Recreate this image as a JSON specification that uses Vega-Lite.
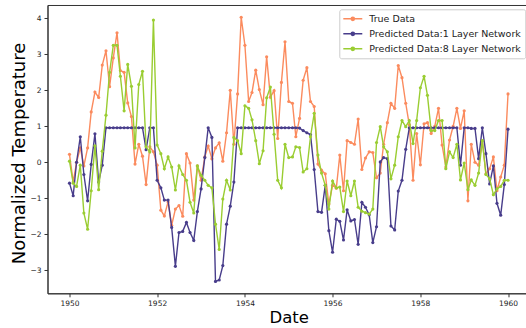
{
  "$schema": "https://vega.github.io/schema/vega-lite/v6.json",
  "width": 482.5,
  "height": 288.3,
  "autosize": "none",
  "padding": {"left": 47.5, "top": 5, "right": 0, "bottom": 35},
  "config": {"view": {"stroke": "#333", "strokeWidth": 1}, "font": "DejaVu Sans"},
  "data": {"values": [
    {"d":"1950-01","t":0.22,"a":-0.58,"b":0.03},
    {"d":"1950-02","t":-0.55,"a":-0.93,"b":-0.58},
    {"d":"1950-03","t":0.0,"a":0.0,"b":-0.67},
    {"d":"1950-04","t":0.4,"a":0.71,"b":-0.08},
    {"d":"1950-05","t":-0.1,"a":-0.34,"b":-1.41},
    {"d":"1950-06","t":0.4,"a":-1.07,"b":-1.86},
    {"d":"1950-07","t":1.4,"a":-0.06,"b":-0.79},
    {"d":"1950-08","t":1.95,"a":0.79,"b":0.46},
    {"d":"1950-09","t":1.8,"a":-0.55,"b":-0.76},
    {"d":"1950-10","t":2.7,"a":-0.08,"b":0.31},
    {"d":"1950-11","t":3.1,"a":0.96,"b":1.31},
    {"d":"1950-12","t":2.1,"a":0.96,"b":2.5},
    {"d":"1951-01","t":2.9,"a":0.96,"b":3.25},
    {"d":"1951-02","t":3.6,"a":0.96,"b":3.25},
    {"d":"1951-03","t":2.55,"a":0.96,"b":2.39},
    {"d":"1951-04","t":2.5,"a":0.96,"b":1.43},
    {"d":"1951-05","t":1.65,"a":0.96,"b":2.72},
    {"d":"1951-06","t":1.27,"a":0.96,"b":2.11},
    {"d":"1951-07","t":-0.05,"a":0.96,"b":0.4},
    {"d":"1951-08","t":0.5,"a":0.96,"b":2.16},
    {"d":"1951-09","t":0.17,"a":0.96,"b":2.53},
    {"d":"1951-10","t":-0.62,"a":0.35,"b":0.43},
    {"d":"1951-11","t":0.43,"a":0.96,"b":0.29},
    {"d":"1951-12","t":0.29,"a":0.96,"b":3.95},
    {"d":"1952-01","t":-0.08,"a":-0.5,"b":0.48},
    {"d":"1952-02","t":-1.33,"a":-0.71,"b":0.24},
    {"d":"1952-03","t":-1.49,"a":-1.05,"b":-0.18},
    {"d":"1952-04","t":-1.1,"a":-1.05,"b":0.15},
    {"d":"1952-05","t":-1.75,"a":-1.81,"b":-0.13},
    {"d":"1952-06","t":-1.3,"a":-2.89,"b":-0.77},
    {"d":"1952-07","t":-1.2,"a":-1.95,"b":-0.1},
    {"d":"1952-08","t":-1.5,"a":-1.92,"b":-0.34},
    {"d":"1952-09","t":0.24,"a":-1.67,"b":-0.5},
    {"d":"1952-10","t":-0.02,"a":-1.95,"b":-1.11},
    {"d":"1952-11","t":-1.05,"a":-2.17,"b":-1.41},
    {"d":"1952-12","t":-0.1,"a":-1.37,"b":-0.1},
    {"d":"1953-01","t":-0.5,"a":-0.74,"b":-0.36},
    {"d":"1953-02","t":0.15,"a":0.13,"b":-0.5},
    {"d":"1953-03","t":0.45,"a":0.96,"b":-0.64},
    {"d":"1953-04","t":0.1,"a":0.69,"b":-0.71},
    {"d":"1953-05","t":0.4,"a":-3.31,"b":-1.72},
    {"d":"1953-06","t":0.54,"a":-3.27,"b":-2.42},
    {"d":"1953-07","t":0.03,"a":-2.87,"b":-1.02},
    {"d":"1953-08","t":0.82,"a":-1.72,"b":-0.5},
    {"d":"1953-09","t":2.0,"a":-1.22,"b":-0.77},
    {"d":"1953-10","t":0.5,"a":-0.55,"b":0.69},
    {"d":"1953-11","t":1.9,"a":0.96,"b":0.6},
    {"d":"1953-12","t":4.03,"a":0.96,"b":0.24},
    {"d":"1954-01","t":3.25,"a":0.96,"b":1.57},
    {"d":"1954-02","t":1.69,"a":0.96,"b":1.5},
    {"d":"1954-03","t":1.94,"a":0.96,"b":1.18},
    {"d":"1954-04","t":2.56,"a":0.96,"b":0.6},
    {"d":"1954-05","t":2.02,"a":0.96,"b":-0.04},
    {"d":"1954-06","t":1.6,"a":0.96,"b":0.32},
    {"d":"1954-07","t":2.93,"a":0.96,"b":1.79},
    {"d":"1954-08","t":1.81,"a":0.96,"b":2.09},
    {"d":"1954-09","t":1.99,"a":0.96,"b":0.78},
    {"d":"1954-10","t":0.66,"a":0.96,"b":-0.5},
    {"d":"1954-11","t":2.22,"a":0.96,"b":-0.71},
    {"d":"1954-12","t":3.35,"a":0.96,"b":0.5},
    {"d":"1955-01","t":1.69,"a":0.96,"b":0.13},
    {"d":"1955-02","t":1.64,"a":0.96,"b":0.15},
    {"d":"1955-03","t":0.71,"a":0.96,"b":0.43},
    {"d":"1955-04","t":1.22,"a":0.95,"b":0.41},
    {"d":"1955-05","t":2.28,"a":0.88,"b":-0.27},
    {"d":"1955-06","t":2.63,"a":0.82,"b":-0.18},
    {"d":"1955-07","t":1.69,"a":0.77,"b":0.71},
    {"d":"1955-08","t":1.55,"a":-0.2,"b":1.36},
    {"d":"1955-09","t":-0.05,"a":-1.37,"b":0.2},
    {"d":"1955-10","t":-0.22,"a":-1.39,"b":-0.3},
    {"d":"1955-11","t":-0.32,"a":-0.64,"b":-0.64},
    {"d":"1955-12","t":-1.16,"a":-1.9,"b":-1.3},
    {"d":"1956-01","t":-0.64,"a":-2.5,"b":-0.52},
    {"d":"1956-02","t":-0.72,"a":-1.58,"b":-0.71},
    {"d":"1956-03","t":0.2,"a":-1.64,"b":-0.69},
    {"d":"1956-04","t":-0.79,"a":-2.16,"b":-1.37},
    {"d":"1956-05","t":0.6,"a":-1.32,"b":-0.52},
    {"d":"1956-06","t":0.55,"a":-1.63,"b":-0.93},
    {"d":"1956-07","t":0.5,"a":-1.59,"b":-0.52},
    {"d":"1956-08","t":1.2,"a":-2.28,"b":-1.25},
    {"d":"1956-09","t":-0.2,"a":-1.11,"b":-1.36},
    {"d":"1956-10","t":0.12,"a":-1.25,"b":-1.4},
    {"d":"1956-11","t":0.29,"a":-1.46,"b":-1.44},
    {"d":"1956-12","t":0.27,"a":-2.23,"b":-1.3},
    {"d":"1957-01","t":-0.43,"a":-1.79,"b":0.55},
    {"d":"1957-02","t":-0.3,"a":0.01,"b":0.99},
    {"d":"1957-03","t":0.5,"a":0.13,"b":0.43},
    {"d":"1957-04","t":1.1,"a":0.1,"b":0.29},
    {"d":"1957-05","t":1.64,"a":-1.77,"b":-0.46},
    {"d":"1957-06","t":1.5,"a":-1.88,"b":-0.08},
    {"d":"1957-07","t":2.69,"a":-0.8,"b":0.71},
    {"d":"1957-08","t":2.35,"a":-0.5,"b":1.16},
    {"d":"1957-09","t":1.64,"a":0.36,"b":0.99},
    {"d":"1957-10","t":1.04,"a":0.96,"b":1.16},
    {"d":"1957-11","t":-0.5,"a":0.96,"b":0.52},
    {"d":"1957-12","t":0.8,"a":0.96,"b":1.16},
    {"d":"1958-01","t":-0.07,"a":0.96,"b":2.07},
    {"d":"1958-02","t":1.07,"a":0.96,"b":2.39},
    {"d":"1958-03","t":1.1,"a":0.96,"b":1.86},
    {"d":"1958-04","t":0.8,"a":0.96,"b":0.88},
    {"d":"1958-05","t":1.0,"a":0.96,"b":0.88},
    {"d":"1958-06","t":1.5,"a":0.96,"b":1.16},
    {"d":"1958-07","t":0.48,"a":0.96,"b":1.16},
    {"d":"1958-08","t":-0.13,"a":0.96,"b":-0.18},
    {"d":"1958-09","t":0.62,"a":0.96,"b":0.29},
    {"d":"1958-10","t":1.0,"a":0.96,"b":0.13},
    {"d":"1958-11","t":1.5,"a":0.96,"b":0.5},
    {"d":"1958-12","t":0.94,"a":-0.08,"b":-0.49},
    {"d":"1959-01","t":1.43,"a":0.96,"b":-0.02},
    {"d":"1959-02","t":-1.07,"a":0.96,"b":-0.76},
    {"d":"1959-03","t":0.5,"a":0.94,"b":-0.49},
    {"d":"1959-04","t":0.0,"a":0.94,"b":-0.64},
    {"d":"1959-05","t":-0.08,"a":0.1,"b":-0.3},
    {"d":"1959-06","t":0.6,"a":0.96,"b":0.6},
    {"d":"1959-07","t":-0.32,"a":0.24,"b":-0.34},
    {"d":"1959-08","t":-0.18,"a":-0.6,"b":-0.46},
    {"d":"1959-09","t":0.15,"a":-0.1,"b":-0.9},
    {"d":"1959-10","t":-0.79,"a":-1.14,"b":-0.74},
    {"d":"1959-11","t":-0.41,"a":-1.47,"b":-0.67},
    {"d":"1959-12","t":-0.08,"a":-0.62,"b":-0.5},
    {"d":"1960-01","t":1.9,"a":0.92,"b":-0.5}
  ]},
  "transform": [{"fold": ["t", "a", "b"], "as": ["s", "v"]}],
  "encoding": {
    "x": {
      "field": "d", "type": "temporal",
      "scale": {"type": "utc", "domain": [{"year": 1949, "month": 7, "date": 2, "utc": true}, {"year": 1960, "month": 7, "date": 2, "utc": true}]},
      "axis": {
        "title": "Date",
        "values": [{"year": 1950, "utc": true}, {"year": 1952, "utc": true}, {"year": 1954, "utc": true}, {"year": 1956, "utc": true}, {"year": 1958, "utc": true}, {"year": 1960, "utc": true}],
        "labelExpr": "utcFormat(datum.value, '%Y')",
        "grid": false, "tickSize": 3.5, "labelPadding": 3, "labelFontSize": 7.5, "labelColor": "#222",
        "domainColor": "#333", "tickColor": "#333",
        "titleFontSize": 16.5, "titleFontWeight": "normal", "titleColor": "#000",
        "titleBaseline": "alphabetic", "titleY": 29.4
      }
    },
    "y": {
      "field": "v", "type": "quantitative",
      "scale": {"domain": [-3.64, 4.37], "nice": false, "zero": false},
      "axis": {
        "title": "Normalized Temperature",
        "values": [-3, -2, -1, 0, 1, 2, 3, 4], "format": "d",
        "grid": false, "tickSize": 3.5, "labelPadding": 3, "labelFontSize": 7.5, "labelColor": "#222",
        "domainColor": "#333", "tickColor": "#333",
        "titleFontSize": 18, "titleFontWeight": "normal", "titleColor": "#000",
        "titleAngle": 270, "titleBaseline": "alphabetic", "titleX": -23.5, "titleY": 148
      }
    },
    "color": {
      "field": "s", "type": "nominal",
      "scale": {"domain": ["t", "a", "b"], "range": ["#fb8b5e", "#483d8b", "#9acd32"]},
      "legend": {
        "orient": "none", "legendX": 291.8, "legendY": 4.3, "title": null,
        "symbolType": "M-2,0L2,0M0.34,0A0.34,0.34,0,1,1,-0.34,0A0.34,0.34,0,1,1,0.34,0",
        "symbolSize": 90, "symbolStrokeWidth": 1.5, "symbolOffset": 4,
        "labelFontSize": 9.5, "labelColor": "#222", "labelOffset": 11,
        "labelExpr": "datum.label == 't' ? 'True Data' : datum.label == 'a' ? 'Predicted Data:1 Layer Network' : 'Predicted Data:8 Layer Network'",
        "rowPadding": 4, "padding": 4,
        "strokeColor": "#cccccc", "fillColor": "rgba(255,255,255,0.8)", "cornerRadius": 2
      }
    }
  },
  "layer": [
    {"transform": [{"filter": "datum.s === 't'"}], "mark": {"type": "line", "strokeWidth": 1.4, "point": {"filled": true, "size": 10}}},
    {"transform": [{"filter": "datum.s === 'a'"}], "mark": {"type": "line", "strokeWidth": 1.4, "point": {"filled": true, "size": 10}}},
    {"transform": [{"filter": "datum.s === 'b'"}], "mark": {"type": "line", "strokeWidth": 1.4, "point": {"filled": true, "size": 10}}}
  ]
}
